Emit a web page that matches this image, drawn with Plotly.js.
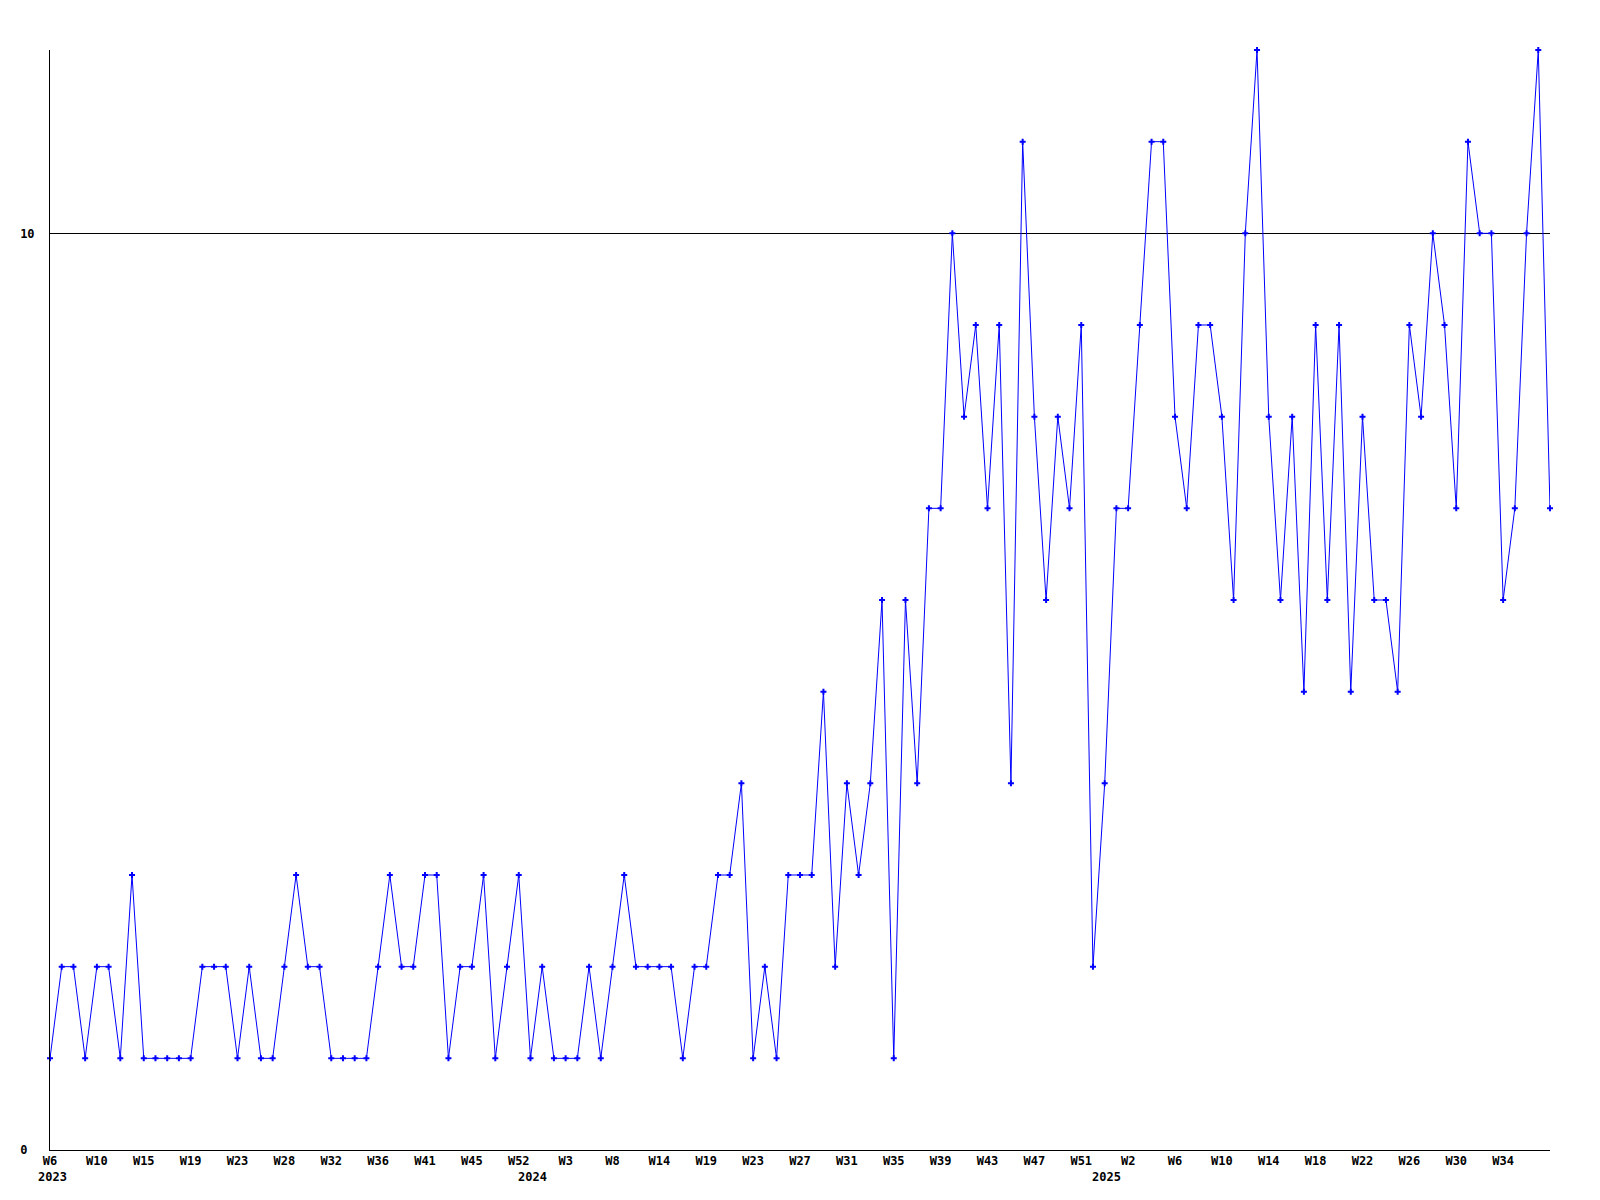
<!DOCTYPE html>
<html>
<head>
<meta charset="utf-8">
<script src="https://cdn.plot.ly/plotly-3.0.1.min.js"></script>
<style>html,body{margin:0;padding:0;background:#fff;}#chart{width:1600px;height:1200px;}</style>
</head>
<body>
<div id="chart"></div>
<script>
// Weekly values, one per week from 2023 W6 onwards
const values = [
  1,2,2,1,2,2,1,3,1,1,1,1,1,2,2,2,1,2,1,1,
  2,3,2,2,1,1,1,1,2,3,2,2,3,3,1,2,2,3,1,2,
  3,1,2,1,1,1,2,1,2,3,2,2,2,2,1,2,2,3,3,4,
  1,2,1,3,3,3,5,2,4,3,4,6,1,6,4,7,7,10,8,9,
  7,9,4,11,8,6,8,7,9,2,4,7,7,9,11,11,8,7,9,9,
  8,6,10,12,8,6,8,5,9,6,9,5,8,6,6,5,9,8,10,9,
  7,11,10,10,6,7,10,12,7
];
// Week tick labels, one every 4 points
const tickLabels = ['W6','W10','W15','W19','W23','W28','W32','W36','W41','W45','W52','W3','W8','W14','W19','W23','W27','W31','W35','W39','W43','W47','W51','W2','W6','W10','W14','W18','W22','W26','W30','W34'];
const tickStep = 4;
// Year labels and the point index where each year starts
const yearLabels = ['2023','2024','2025'];
const yearIdx = [0, 41, 90];
// Y-axis ticks
const yTicks = [0, 10];

const xIdx = values.map((_, i) => i);
const tickVals = tickLabels.map((_, i) => i * tickStep);
// left-align y labels (monospace): pad shorter labels on the right
const yWidth = Math.max(...yTicks.map(v => String(v).length));
const yText = yTicks.map(v => String(v) + '\u00a0'.repeat(yWidth - String(v).length));

const font = {family: '"DejaVu Sans Mono", "Liberation Mono", monospace', size: 12, color: '#000', weight: 'bold'};

const trace = {
  x: xIdx,
  y: values,
  type: 'scatter',
  mode: 'lines+markers',
  line: {color: '#0000ff', width: 1},
  marker: {symbol: 'cross', size: 5, color: '#0000ff', line: {width: 0}},
  cliponaxis: false,
  hoverinfo: 'skip'
};

const annotations = yearLabels.map((t, i) => ({
  x: yearIdx[i], xref: 'x', y: 0, yref: 'paper',
  text: t, showarrow: false, xanchor: 'center', yanchor: 'middle',
  yshift: -27, xshift: 2, font: font
}));

const layout = {
  width: 1600, height: 1200,
  margin: {l: 50, r: 50, t: 50, b: 50, pad: 0},
  paper_bgcolor: '#fff', plot_bgcolor: '#fff',
  showlegend: false,
  font: font,
  xaxis: {
    range: [0, 128], showgrid: false, zeroline: false,
    showline: true, linecolor: '#000', linewidth: 1,
    tickvals: tickVals, ticktext: tickLabels, ticks: '',
    tickangle: 0, tickfont: font, ticklabelstandoff: 0
  },
  yaxis: {
    range: [0, 12], showgrid: true, gridcolor: '#000', gridwidth: 1,
    zeroline: false, showline: true, linecolor: '#000', linewidth: 1,
    tickvals: yTicks, ticktext: yText, ticks: '',
    tickfont: font, ticklabelstandoff: 12
  },
  annotations: annotations
};

Plotly.newPlot('chart', [trace], layout, {staticPlot: true, displayModeBar: false});
</script>
</body>
</html>
